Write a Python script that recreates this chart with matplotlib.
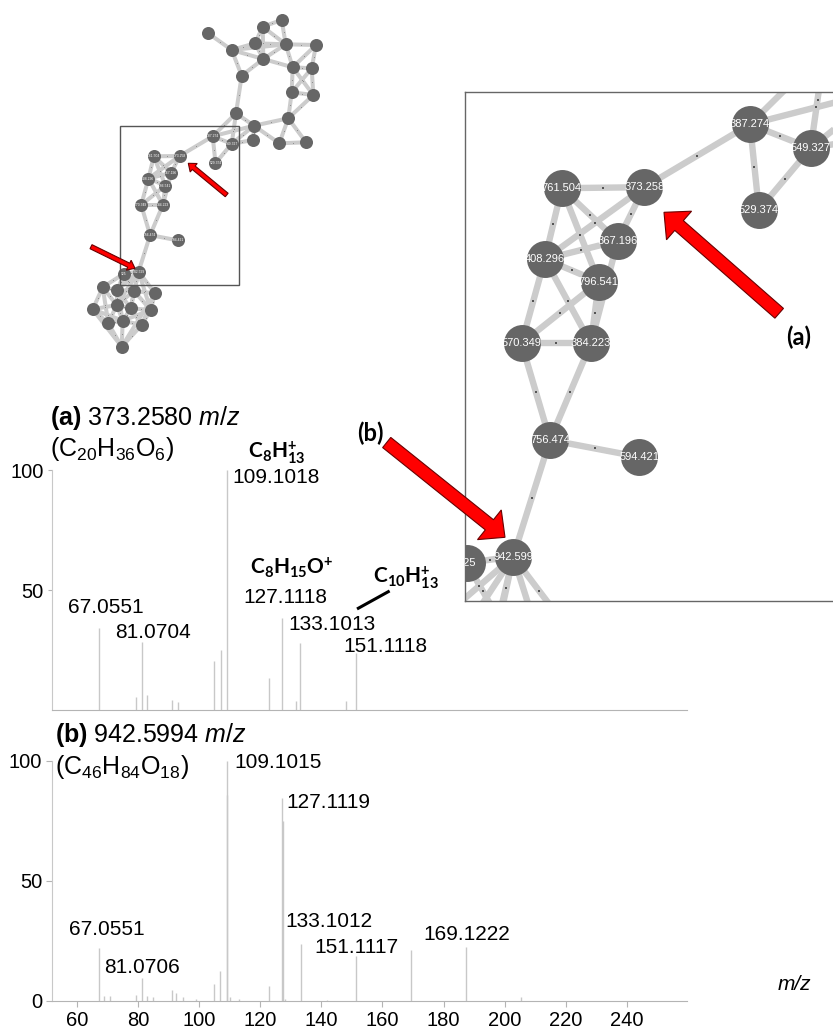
import matplotlib
matplotlib.use('Agg')
import matplotlib.pyplot as plt
from matplotlib.patches import FancyArrow, Rectangle
from matplotlib.collections import LineCollection
import numpy as np

plt.rcParams['font.family'] = ['Liberation Sans', 'DejaVu Sans']
plt.rcParams['mathtext.fontset'] = 'custom'
plt.rcParams['mathtext.rm'] = 'Liberation Sans'
plt.rcParams['mathtext.it'] = 'Liberation Sans:italic'
plt.rcParams['mathtext.bf'] = 'Liberation Sans:bold'
plt.rcParams['mathtext.sf'] = 'Lato:bold'

# ---------------- network data (layout coordinates) ----------------
node_labels = ['', '', '', '', '', '', '', '', '', '', '', '', '', '', '', '', '', '', '',
               '387.274', '549.327', '529.374', '373.258', '761.504', '367.196', '408.296',
               '796.541', '570.349', '384.223', '756.474', '594.421', '942.599', '525',
               '', '', '', '', '', '', '', '', '', '', '', '']
node_x = [208.3, 231.7, 255.0, 262.7, 281.7, 285.7, 263.3, 316.0, 241.7, 292.7, 311.7, 291.7,
          313.3, 236.0, 254.0, 253.3, 288.3, 279.3, 306.0,
          212.7, 231.7, 215.5, 179.6, 153.8, 171.3, 148.5, 165.4, 141.2, 162.9, 150.1, 178.0,
          138.6, 124.0,
          102.7, 117.3, 134.0, 155.0, 92.7, 116.7, 130.7, 150.7, 122.7, 108.3, 141.7, 121.7]
node_y = [33.3, 50.0, 43.3, 26.7, 20.0, 44.3, 59.0, 45.0, 75.7, 67.3, 68.3, 92.3,
          95.0, 113.3, 125.7, 140.0, 118.3, 143.3, 142.3,
          136.3, 143.8, 163.1, 156.0, 156.3, 172.8, 178.5, 185.6, 204.9, 204.9, 235.1, 240.4,
          271.6, 273.6,
          287.3, 290.0, 291.0, 293.3, 309.3, 305.0, 308.3, 310.0, 320.7, 323.3, 325.0, 346.7]
edges = [(0, 1), (1, 2), (1, 6), (1, 8), (1, 5), (2, 3), (2, 5), (2, 6), (3, 4), (3, 5), (4, 5),
         (3, 6), (5, 6), (6, 8), (6, 9), (5, 9), (5, 7), (7, 9), (7, 10), (9, 10), (9, 11), (9, 12),
         (10, 11), (10, 12), (11, 12), (8, 13), (11, 16), (12, 16), (13, 14), (13, 19), (13, 20),
         (14, 16), (14, 15), (14, 17), (14, 19), (14, 20), (15, 20), (16, 17), (16, 18), (17, 18),
         (19, 20), (19, 21), (20, 21), (19, 22),
         (22, 23), (22, 24), (22, 25), (23, 25), (23, 24), (23, 26), (25, 24), (25, 26), (25, 27),
         (25, 28), (26, 27), (26, 28), (24, 28), (27, 28), (27, 29), (28, 29), (29, 30), (29, 31),
         (31, 32), (31, 34), (31, 35), (31, 36), (31, 38), (31, 39), (31, 40), (32, 33), (32, 34),
         (32, 35), (32, 38), (33, 34), (33, 37), (33, 38), (33, 42), (34, 35), (34, 38), (34, 39),
         (34, 41), (35, 36), (35, 39), (35, 40), (35, 38), (36, 40), (36, 43), (36, 44), (37, 38),
         (37, 42), (37, 41), (37, 44), (38, 39), (38, 41), (38, 42), (39, 40), (39, 41), (39, 43),
         (40, 43), (40, 41), (41, 42), (41, 43), (41, 44), (42, 44), (43, 44)]

# ---------------- spectra data ----------------
mz_a = [67.1, 79.3, 81.2, 83.0, 91.2, 93.2, 104.9, 107.0, 109.0, 123.0, 127.2, 131.6, 133.1,
        147.9, 151.2]
int_a = [34.2, 5.3, 28.5, 6.1, 4.2, 3.5, 20.5, 25.0, 100.0, 13.5, 38.2, 3.7, 27.8, 3.7, 23.6]
labels_a = ['67.0551', '81.0704', '109.1018', '127.1118', '133.1013', '151.1118']

mz_b = [67.2, 68.9, 70.8, 79.3, 81.2, 83.0, 84.8, 91.2, 92.4, 94.8, 99.0, 104.8, 106.9, 109.0,
        109.1, 110.1, 113.1, 122.9, 127.2, 127.3, 128.1, 133.2, 141.7, 151.2, 169.2, 187.2, 205.2]
int_b = [22.2, 2.0, 2.0, 2.5, 9.7, 2.0, 1.5, 4.4, 3.5, 1.5, 1.0, 7.2, 12.5, 100.0,
         86.0, 1.5, 1.0, 6.2, 84.6, 75.0, 1.0, 23.6, 0.5, 18.8, 21.2, 22.6, 1.5]
labels_b = ['67.0551', '81.0706', '109.1015', '127.1119', '133.1012', '151.1117', '169.1222']

xticks_b = [60, 80, 100, 120, 140, 160, 180, 200, 220, 240]

# ---------------- figure ----------------
W, H = 833, 1029
fig = plt.figure(figsize=(W / 100, H / 100), dpi=100)

nx = np.array(node_x)
ny = np.array(node_y)
segs = [[(nx[i], ny[i]), (nx[j], ny[j])] for i, j in edges]
midx = [(nx[i] + nx[j]) / 2 for i, j in edges]
midy = [(ny[i] + ny[j]) / 2 for i, j in edges]

EDGE_C = '#cccccc'
NODE_C = '#666666'

# overview network (full-figure pixel axes)
ax_net = fig.add_axes([0, 0, 1, 1], zorder=0)
ax_net.set_xlim(0, W)
ax_net.set_ylim(H, 0)
ax_net.axis('off')
ax_net.add_collection(LineCollection(segs, colors=EDGE_C, linewidths=2.9, zorder=1))
ax_net.scatter(midx, midy, s=0.3, color='#777777', zorder=1.5, linewidths=0)
ax_net.scatter(nx, ny, s=88, color=NODE_C, zorder=2, linewidths=0)
for lab, x, y in zip(node_labels, nx, ny):
    if lab:
        ax_net.text(x, y, lab, fontsize=2.4, color='white', ha='center', va='center', zorder=3)
ax_net.add_patch(Rectangle((120, 125.7), 119.3, 159.3, fill=False, ec='#555555', lw=1.0, zorder=4))

# spectrum (a)
XL = (51.8, 259.7)
ax_a = fig.add_axes([52 / W, 1 - 710 / H, 635 / W, 240 / H], facecolor='none', zorder=1)
ax_a.vlines(mz_a, 0, int_a, color='#c8c8c8', lw=1.0)
ax_a.set_xlim(*XL)
ax_a.set_ylim(0, 100)
for s in ['top', 'right']:
    ax_a.spines[s].set_visible(False)
ax_a.spines['left'].set_color('#c8c8c8')
ax_a.spines['bottom'].set_color('#b4b4b4')
ax_a.set_xticks([])
ax_a.set_yticks([50, 100])
ax_a.tick_params(axis='y', length=3, color='#b4b4b4', labelsize=14.5, pad=3)

pos_a = [(57.05, 40.4), (72.4, 30.0), (110.7, 94.6), (114.3, 44.6), (129.1, 33.3), (147.1, 24.2)]
for lab, (x, y) in zip(labels_a, pos_a):
    ax_a.text(x, y, lab, fontsize=15, ha='left', va='baseline')
ax_a.text(51.2, 118.75, r'$\mathbf{(a)}$ 373.2580 $\mathit{m/z}$', fontsize=18,
          ha='left', va='baseline')
ax_a.text(51.2, 105.8, r'(C$_{20}$H$_{36}$O$_{6}$)', fontsize=18, ha='left', va='baseline')
ax_a.text(116.0, 104.9, r'$\mathsf{C_{8}H_{13}^{+}}$', fontsize=15, ha='left', va='baseline')
ax_a.text(116.6, 56.3, r'$\mathsf{C_{8}H_{15}O^{+}}$', fontsize=15, ha='left', va='baseline')
ax_a.text(156.9, 52.8, r'$\mathsf{C_{10}H_{13}^{+}}$', fontsize=15, ha='left', va='baseline')
ax_a.plot([152.1, 161.9], [42.4, 49.3], color='black', lw=2.2, clip_on=False)

# spectrum (b)
ax_b = fig.add_axes([52 / W, 1 - 1001 / H, 635 / W, 240 / H], facecolor='none', zorder=1)
ax_b.vlines(mz_b, 0, int_b, color='#c8c8c8', lw=1.0)
ax_b.set_xlim(*XL)
ax_b.set_ylim(0, 100)
for s in ['top', 'right']:
    ax_b.spines[s].set_visible(False)
ax_b.spines['left'].set_color('#c8c8c8')
ax_b.spines['bottom'].set_color('#b4b4b4')
ax_b.set_xticks(xticks_b)
ax_b.set_xticklabels([str(t) for t in xticks_b])
ax_b.set_yticks([0, 50, 100])
ax_b.tick_params(axis='both', length=4, color='#b4b4b4', labelsize=14.5, pad=3)

pos_b = [(57.4, 27.5), (68.8, 11.7), (111.4, 97.1), (128.4, 80.4), (128.1, 30.8), (137.6, 20.2),
         (173.3, 25.4)]
for lab, (x, y) in zip(labels_b, pos_b):
    ax_b.text(x, y, lab, fontsize=15, ha='left', va='baseline')
ax_b.text(52.8, 107.9, r'$\mathbf{(b)}$ 942.5994 $\mathit{m/z}$', fontsize=18,
          ha='left', va='baseline')
ax_b.text(52.8, 94.6, r'(C$_{46}$H$_{84}$O$_{18}$)', fontsize=18, ha='left', va='baseline')
fig.text(794 / W, 1 - 985 / H, 'm/z', fontsize=15, style='italic', ha='center', va='center')

# inset (zoomed network)
SC = 3.195
ax_in = fig.add_axes([465 / W, 1 - 601 / H, 381 / W, 509 / H], zorder=5)
ax_in.set_facecolor('white')
ax_in.set_xlim(123.5, 123.5 + 381 / SC)
ax_in.set_ylim(126.2 + 509 / SC, 126.2)
ax_in.set_xticks([])
ax_in.set_yticks([])
for s in ax_in.spines.values():
    s.set_color('#666666')
    s.set_linewidth(1.0)
ax_in.add_collection(LineCollection(segs, colors=EDGE_C, linewidths=4.6, zorder=1))
ax_in.scatter(midx, midy, s=2.0, color='#555555', zorder=1.5, linewidths=0, marker='s')
ax_in.scatter(nx, ny, s=708, color=NODE_C, zorder=2, linewidths=0)
for lab, x, y in zip(node_labels, nx, ny):
    if lab:
        ax_in.text(x, y, lab, fontsize=8, color='white', ha='center', va='center', zorder=3,
                   clip_on=True)

# overlay: arrows and labels
ax_top = fig.add_axes([0, 0, 1, 1], zorder=10, facecolor='none')
ax_top.set_xlim(0, W)
ax_top.set_ylim(H, 0)
ax_top.axis('off')
arrow_kw = dict(length_includes_head=True, fc='#ff0000', ec='#6a0000', lw=0.8)
ax_top.add_patch(FancyArrow(779.2, 313.3, -115.2, -101.0, width=13, head_width=38,
                            head_length=20, **arrow_kw))
ax_top.add_patch(FancyArrow(386.7, 442.5, 118.3, 94.8, width=13, head_width=38,
                            head_length=20, **arrow_kw))
ax_top.add_patch(FancyArrow(226.7, 195.0, -38.4, -31.7, width=4.5, head_width=11,
                            head_length=7, **arrow_kw))
ax_top.add_patch(FancyArrow(91.0, 246.7, 44.0, 21.6, width=4.5, head_width=11,
                            head_length=7, **arrow_kw))
ax_top.text(798.5, 337.5, '(a)', fontsize=17, fontweight='bold', family=['Lato', 'DejaVu Sans'],
            ha='center', va='center')
ax_top.text(370, 433, '(b)', fontsize=17, fontweight='bold', family=['Lato', 'DejaVu Sans'],
            ha='center', va='center')

fig.savefig('out.png', dpi=100)
